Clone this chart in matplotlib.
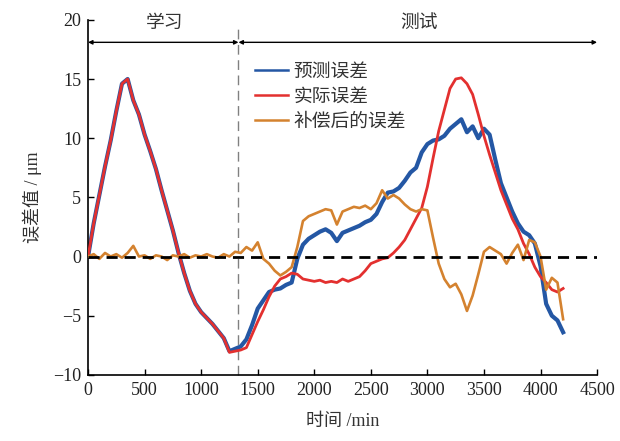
import matplotlib
matplotlib.use("Agg")
import matplotlib.pyplot as plt
import numpy as np

# ---------------- data ----------------
time_min = list(range(0, 4201, 50))

actual_error = [
    0.0, 2.8, 5.2, 7.6, 9.8, 12.3, 14.6, 15.0, 13.2, 12.0,
    10.3, 8.9, 7.4, 5.6, 3.9, 2.2, 0.3, -1.4, -2.9, -4.0,
    -4.7, -5.2, -5.7, -6.3, -6.9, -8.1, -8.0, -7.9, -7.7, -6.6,
    -5.5, -4.5, -3.4, -2.5, -1.9, -1.7, -1.4, -1.5, -1.9, -2.0,
    -2.1, -2.0, -2.2, -2.1, -2.2, -1.9, -2.1, -1.9, -1.7, -1.2,
    -0.6, -0.4, -0.2, -0.1, 0.3, 0.8, 1.4, 2.3, 3.2, 4.1,
    5.9, 8.3, 10.6, 12.4, 14.2, 15.0, 15.1, 14.6, 13.7, 12.0,
    10.2, 8.6, 7.1, 5.6, 4.4, 3.2, 2.3, 1.1, 0.2, -0.9,
    -1.7, -2.2, -2.8, -3.0, -2.7,
]

predicted_error = [
    0.0, 2.8, 5.2, 7.6, 9.8, 12.3, 14.6, 15.0, 13.2, 12.0,
    10.3, 8.9, 7.4, 5.6, 3.9, 2.2, 0.3, -1.4, -2.9, -4.0,
    -4.7, -5.2, -5.7, -6.3, -6.9, -8.0, -7.8, -7.6, -7.0, -5.8,
    -4.4, -3.7, -3.0, -2.8, -2.7, -2.4, -2.2, -0.2, 1.0, 1.5,
    1.8, 2.1, 2.3, 2.0, 1.3, 2.0, 2.2, 2.4, 2.6, 2.9,
    3.1, 3.6, 4.6, 5.4, 5.5, 5.8, 6.4, 7.1, 7.5, 8.8,
    9.5, 9.8, 9.9, 10.2, 10.8, 11.2, 11.6, 10.5, 11.0, 10.0,
    10.8, 10.3, 8.2, 6.2, 5.0, 3.8, 2.8, 2.1, 1.8, 1.1,
    -0.8, -4.0, -5.0, -5.4, -6.4,
]

compensated_error = [
    0.0, 0.2, -0.2, 0.3, 0.0, 0.2, -0.1, 0.3, 0.9, 0.0,
    0.1, -0.2, 0.1, 0.0, -0.3, 0.1, 0.0, 0.2, -0.1, 0.1,
    0.0, 0.2, 0.0, -0.1, 0.2, 0.0, 0.4, 0.3, 0.8, 0.5,
    1.2, -0.2, -0.6, -1.2, -1.6, -1.3, -0.9, 0.8, 3.0, 3.4,
    3.6, 3.8, 4.0, 3.9, 2.7, 3.8, 4.0, 4.2, 4.1, 4.3,
    4.0, 4.5, 5.6, 4.9, 5.2, 4.9, 4.4, 4.0, 3.8, 4.0,
    3.9, 1.6, -0.6, -1.9, -2.6, -2.3, -3.2, -4.6, -3.3, -1.5,
    0.4, 0.8, 0.5, 0.2, -0.6, 0.3, 1.0, -0.3, 1.4, 1.2,
    0.0, -2.8, -1.8, -2.2, -5.3,
]

split_time = 1330
series_labels = ["预测误差", "实际误差", "补偿后的误差"]
phase_labels = ["学习", "测试"]
x_ticks = [0, 500, 1000, 1500, 2000, 2500, 3000, 3500, 4000, 4500]
y_ticks = [-10, -5, 0, 5, 10, 15, 20]

# ---------------- figure ----------------
serif = ["Liberation Serif", "Noto Sans CJK SC"]
plt.rcParams["font.family"] = serif
plt.rcParams["axes.unicode_minus"] = True

fig = plt.figure(figsize=(6.2, 4.41), dpi=100)
ax = fig.add_axes([0.142, 0.150, 0.821, 0.805])

c_blue = "#2457a4"
c_red = "#e3302f"
c_orange = "#d4822f"

t = np.array(time_min)
ax.plot(t, predicted_error, color=c_blue, lw=3.0, label=series_labels[0], zorder=2)
ax.plot(t, actual_error, color=c_red, lw=2.0, label=series_labels[1], zorder=3)
ax.plot(t, compensated_error, color=c_orange, lw=1.9, label=series_labels[2], zorder=4)

ax.axhline(0, color="black", lw=2.0, ls=(0, (4, 2.5)), zorder=5)
ax.plot([split_time, split_time], [-10, 19.6], color="#808080", lw=1.0,
        ls=(0, (7, 4)), zorder=1, clip_on=False)

ax.set_xlim(0, 4500)
ax.set_ylim(-10, 20)
ax.set_xticks(x_ticks)
ax.set_yticks(y_ticks)
ax.tick_params(direction="in", length=4, width=1, labelsize=13, pad=5)
for lab in ax.get_xticklabels() + ax.get_yticklabels():
    lab.set_color("#222222")

for s in ["top", "right"]:
    ax.spines[s].set_visible(False)
for s in ["left", "bottom"]:
    ax.spines[s].set_linewidth(1.2)

ax.set_xlabel("时间 /min", fontsize=13, color="#333333", labelpad=10)
ax.set_ylabel("误差值 / μm", fontsize=13, color="#333333", labelpad=8)

# phase arrows
arrow_y = 18.1
ax.annotate("", xy=(0, arrow_y), xytext=(split_time, arrow_y),
            arrowprops=dict(arrowstyle="<|-|>", color="black", lw=1.0,
                            mutation_scale=6, shrinkA=0, shrinkB=0),
            annotation_clip=False)
ax.annotate("", xy=(split_time, arrow_y), xytext=(4500, arrow_y),
            arrowprops=dict(arrowstyle="<|-|>", color="black", lw=1.0,
                            mutation_scale=6, shrinkA=0, shrinkB=0),
            annotation_clip=False)
ax.text(680, 19.7, phase_labels[0], ha="center", va="center", fontsize=13.5,
        color="#333333", clip_on=False)
ax.text(2930, 19.7, phase_labels[1], ha="center", va="center", fontsize=13.5,
        color="#333333", clip_on=False)

leg = ax.legend(loc="upper left", bbox_to_anchor=(0.313, 0.898), frameon=False,
                fontsize=13.5, handlelength=1.75, handletextpad=0.3,
                labelspacing=0.42, borderaxespad=0)
for line in leg.get_lines():
    line.set_linewidth(1.8)
for txt in leg.get_texts():
    txt.set_color("#333333")

fig.savefig("out.png", dpi=100)
